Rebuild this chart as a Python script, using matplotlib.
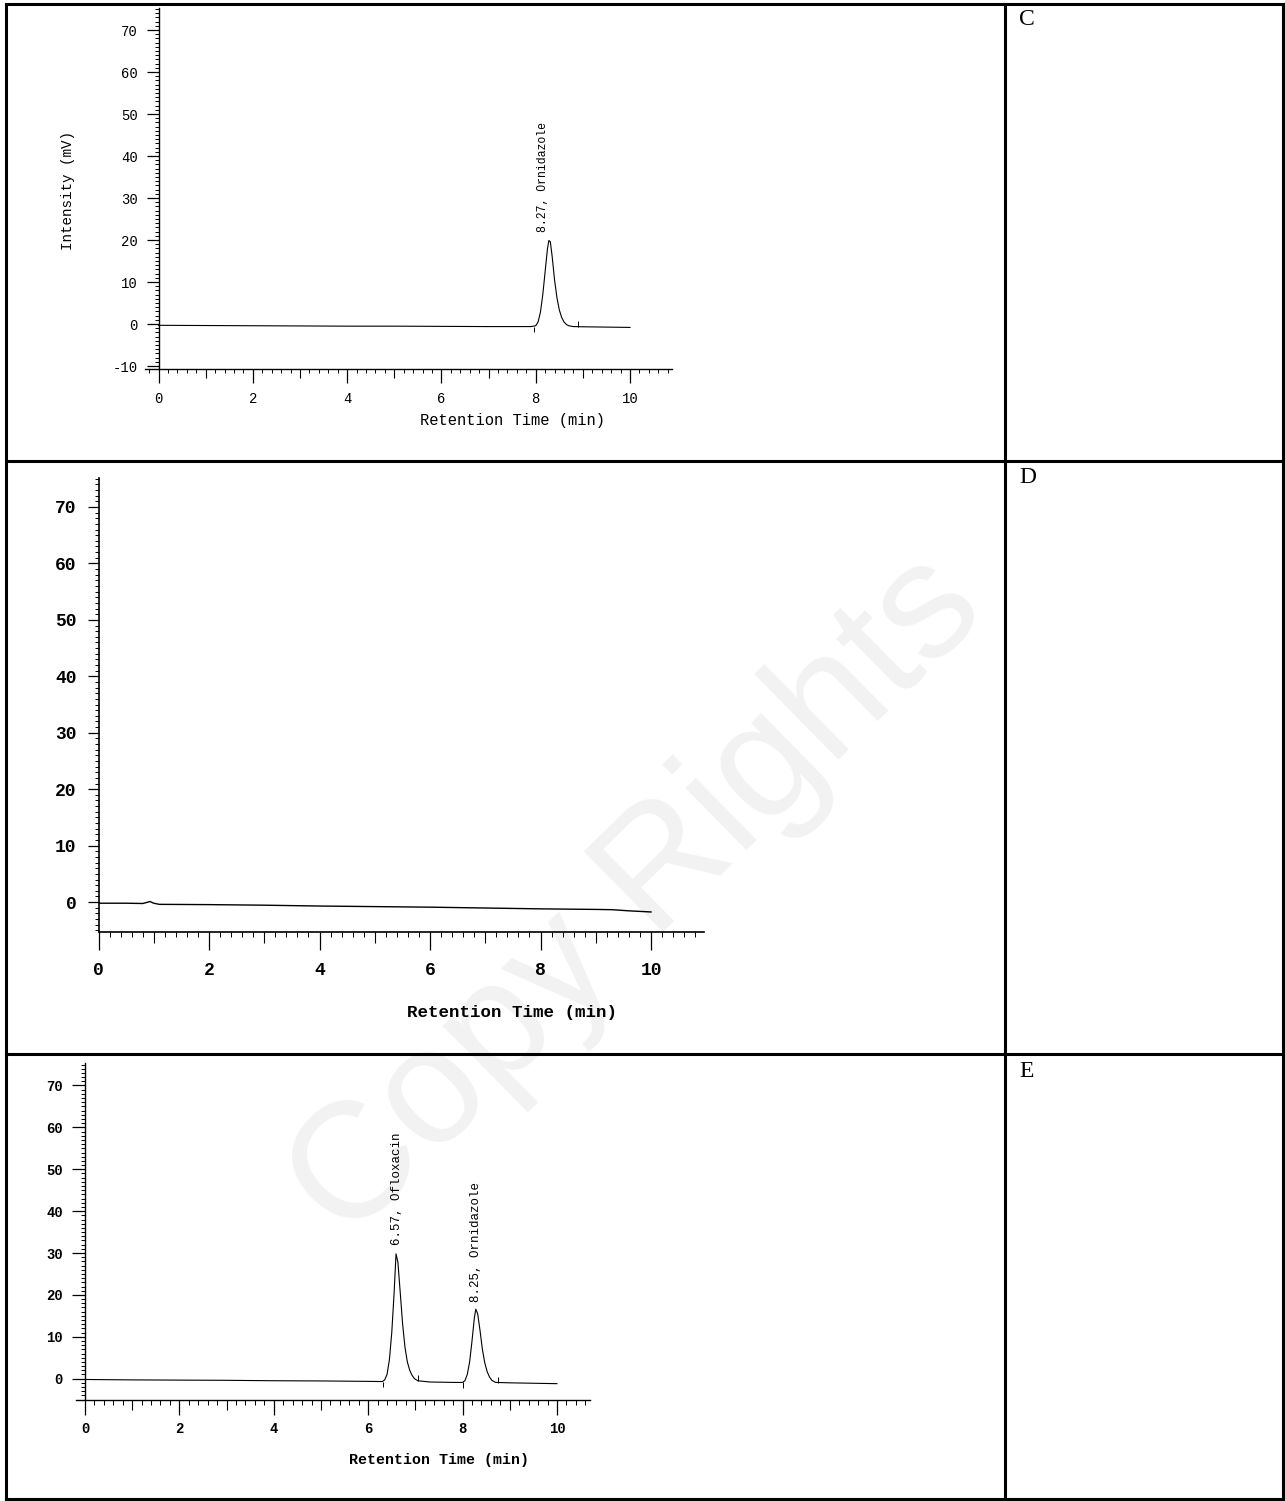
import numpy as np
import matplotlib
matplotlib.use('Agg')
import matplotlib.pyplot as plt
from matplotlib.lines import Line2D
from matplotlib.ticker import MultipleLocator

# ---------------- data ----------------
x_tick_values = [0, 2, 4, 6, 8, 10]
x_odd_ticks = [1, 3, 5, 7, 9]
y_ticks_c = [-10, 0, 10, 20, 30, 40, 50, 60, 70]
y_ticks_de = [0, 10, 20, 30, 40, 50, 60, 70]

# Panel C : blank + Ornidazole
c_time = [0.0, 1.0, 2.0, 3.0, 4.0, 5.0, 6.0, 7.0, 7.9, 8.0, 8.05, 8.1, 8.15, 8.2,
          8.25, 8.28, 8.31, 8.35, 8.4, 8.45, 8.5, 8.55, 8.6, 8.65, 8.7, 8.8, 9.0, 10.0]
c_signal = [-0.3, -0.35, -0.4, -0.45, -0.5, -0.5, -0.55, -0.6, -0.6, -0.4, 0.5, 2.8, 7.0, 12.5,
            18.0, 19.9, 19.6, 16.0, 10.5, 6.3, 3.4, 1.6, 0.5, -0.1, -0.4, -0.6, -0.65, -0.8]
c_mark_t = [7.97, 8.9]
c_mark_y = [-0.6, -0.65]
c_mark_dir = [-1, 1]
c_labels = ["8.27, Ornidazole"]
c_label_t = [8.16]
c_label_y = [21.9]

# Panel D : blank
d_time = [0.0, 0.5, 0.8, 0.88, 0.93, 1.0, 1.1, 2.0, 3.0, 4.0, 5.0, 6.0, 7.0, 8.0,
          9.0, 9.3, 9.6, 10.0]
d_signal = [-0.2, -0.2, -0.25, -0.05, 0.1, -0.2, -0.4, -0.45, -0.55, -0.7, -0.8, -0.9,
            -1.05, -1.2, -1.3, -1.35, -1.55, -1.75]

# Panel E : Ofloxacin + Ornidazole
e_time = [0.0, 1.0, 2.0, 3.0, 4.0, 5.0, 6.0, 6.3, 6.35, 6.4, 6.45, 6.5, 6.55, 6.59,
          6.63, 6.68, 6.73, 6.78, 6.83, 6.88, 6.93, 6.98, 7.05, 7.3, 7.8, 8.0, 8.05,
          8.1, 8.15, 8.2, 8.25, 8.28, 8.32, 8.37, 8.42, 8.47, 8.52, 8.57, 8.62, 8.7,
          9.0, 10.0]
e_signal = [-0.2, -0.3, -0.35, -0.4, -0.5, -0.55, -0.65, -0.7, -0.3, 1.0, 4.5, 11.0,
            20.5, 29.8, 27.8, 20.5, 13.0, 7.5, 4.0, 2.0, 0.8, 0.0, -0.5, -0.8, -0.9,
            -0.9, -0.5, 1.0, 4.0, 9.0, 14.5, 16.6, 15.5, 11.5, 7.0, 3.8, 1.7, 0.4,
            -0.4, -0.9, -1.0, -1.2]
e_mark_t = [6.31, 7.06, 8.0, 8.75]
e_mark_y = [-0.7, -0.55, -0.9, -0.95]
e_mark_dir = [-1, 1, -1, 1]
e_labels = ["6.57, Ofloxacin", "8.25, Ornidazole"]
e_label_t = [6.61, 8.29]
e_label_y = [31.8, 18.2]

row_letters = ["C", "D", "E"]
xlabel_text = "Retention Time (min)"
ylabel_text = "Intensity (mV)"
watermark_text = "Copy Rights"

# ---------------- figure ----------------
W, H = 1285, 1501
fig = plt.figure(figsize=(W / 100, H / 100), dpi=100)
fig.patch.set_facecolor('white')
PT = 0.72  # px -> pt at 100 dpi
MONO = 'Liberation Mono'


def fx(px):
    return px / W


def fy(py):
    return 1 - py / H


def add_ax(l, t, r, b):
    return fig.add_axes([l / W, 1 - b / H, (r - l) / W, (b - t) / H])


def chrom(ax, t, s, xlim, ylim, yticks, fs, weight, xmaj, xodd, xmin_, ymaj, ymin_,
          xpad, ypad, lw_axis, lw_line):
    ax.set_facecolor('none')
    ax.plot(t, s, color='black', lw=lw_line, solid_joinstyle='round')
    ax.set_xlim(xlim)
    ax.set_ylim(ylim)
    for sp in ['top', 'right']:
        ax.spines[sp].set_visible(False)
    ax.spines['left'].set_position(('data', 0))
    ax.spines['left'].set_linewidth(lw_axis)
    ax.spines['bottom'].set_linewidth(lw_axis)
    ax.set_xticks(x_tick_values, labels=[str(v) for v in x_tick_values],
                  fontfamily=MONO, fontsize=fs, fontweight=weight)
    ax.set_yticks(yticks, labels=[str(v) for v in yticks],
                  fontfamily=MONO, fontsize=fs, fontweight=weight)
    ax.xaxis.set_minor_locator(MultipleLocator(0.2))
    ax.yaxis.set_minor_locator(MultipleLocator(1))
    ax.tick_params(axis='x', which='major', direction='out', length=xmaj * PT,
                   width=0.9, pad=xpad * PT)
    ax.tick_params(axis='x', which='minor', direction='out', length=xmin_ * PT, width=0.7)
    ax.tick_params(axis='y', which='major', direction='out', length=ymaj * PT,
                   width=0.9, pad=ypad * PT)
    ax.tick_params(axis='y', which='minor', direction='out', length=ymin_ * PT, width=0.7)
    sec = ax.secondary_xaxis('bottom')
    sec.set_xticks(x_odd_ticks, labels=['' for _ in x_odd_ticks])
    sec.tick_params(axis='x', direction='out', length=xodd * PT, width=0.8)
    for sp in sec.spines.values():
        sp.set_visible(False)


# Panel C
axc = add_ax(144.5, 8.2, 672.4, 369.0)
chrom(axc, c_time, c_signal, (-0.3, 10.9), (-10.7, 75.2), y_ticks_c, 10, 'normal',
      14, 9, 4, 12, 4, 9, 9, 1.0, 0.8)
axc.vlines(c_mark_t, c_mark_y, [y + d * 1.4 for y, d in zip(c_mark_y, c_mark_dir)],
           color='black', lw=0.7)
for lab, tt, yy in zip(c_labels, c_label_t, c_label_y):
    axc.text(tt, yy, lab, rotation=90, ha='center', va='bottom', fontsize=8.3,
             fontfamily=MONO)
fig.text(fx(512), fy(421), xlabel_text, ha='center', va='center', fontsize=11.2,
         fontfamily=MONO)
fig.text(fx(68), fy(190), ylabel_text, ha='center', va='center', rotation=90,
         fontsize=10.3, fontfamily=MONO)

# Panel D
axd = add_ax(98.5, 478.2, 703.5, 932.0)
chrom(axd, d_time, d_signal, (0.0, 10.95), (-5.3, 75.1), y_ticks_de, 13, 'bold',
      18, 11, 5, 11, 4, 12, 11, 1.2, 1.0)
fig.text(fx(512), fy(1013), xlabel_text, ha='center', va='center', fontsize=12.6,
         fontfamily=MONO, fontweight='bold')

# Panel E
axe = add_ax(76.0, 1063.3, 590.0, 1400.0)
chrom(axe, e_time, e_signal, (-0.19, 10.7), (-5.1, 75.3), y_ticks_de, 10, 'bold',
      15, 10, 5, 13, 4, 7, 9, 1.0, 0.8)
axe.vlines(e_mark_t, e_mark_y, [y + d * 1.4 for y, d in zip(e_mark_y, e_mark_dir)],
           color='black', lw=0.7)
for lab, tt, yy in zip(e_labels, e_label_t, e_label_y):
    axe.text(tt, yy, lab, rotation=90, ha='center', va='bottom', fontsize=9,
             fontfamily=MONO)
fig.text(fx(439), fy(1460), xlabel_text, ha='center', va='center', fontsize=10.8,
         fontfamily=MONO, fontweight='bold')

# Row letters in the right column
for letter, ytop in zip(row_letters, [9, 467, 1061]):
    fig.text(fx(1019), fy(ytop), letter, ha='left', va='top', fontsize=17,
             fontfamily='Liberation Serif')

# Table borders
def hline(y, x0, x1):
    fig.add_artist(Line2D([fx(x0), fx(x1)], [fy(y), fy(y)], transform=fig.transFigure,
                          color='black', lw=2.2, solid_capstyle='projecting'))


def vline(x, y0, y1):
    fig.add_artist(Line2D([fx(x), fx(x)], [fy(y0), fy(y1)], transform=fig.transFigure,
                          color='black', lw=2.2, solid_capstyle='projecting'))


for yy in [4, 461, 1054, 1499]:
    hline(yy, 6, 1283)
for xx in [6, 1005, 1283]:
    vline(xx, 4, 1499)

# Watermark
fig.text(fx(637), fy(898), watermark_text, ha='center', va='center', rotation=44.5,
         rotation_mode='anchor', fontsize=119, color='#f2f2f2',
         fontfamily='Liberation Sans', zorder=-1)

fig.savefig('out.png', dpi=100, facecolor='white')
